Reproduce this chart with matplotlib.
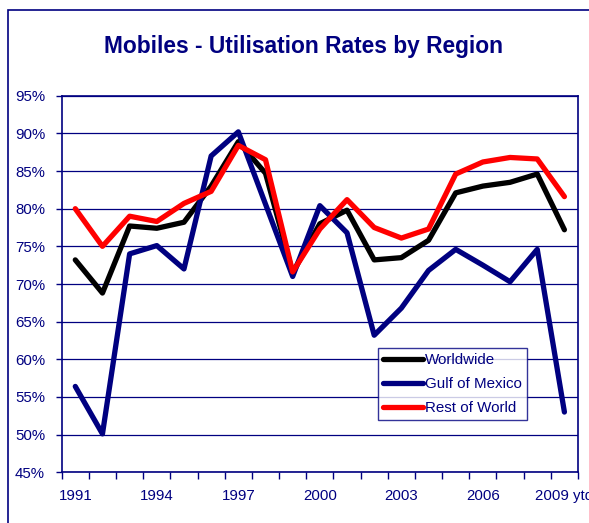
import matplotlib
matplotlib.use("Agg")
import matplotlib.pyplot as plt
from matplotlib.patches import Rectangle

plt.rcParams['font.family'] = ['Liberation Sans', 'DejaVu Sans']

years = ["1991", "1992", "1993", "1994", "1995", "1996", "1997", "1998", "1999", "2000",
         "2001", "2002", "2003", "2004", "2005", "2006", "2007", "2008", "2009 ytd"]
worldwide = [73.2, 68.8, 77.7, 77.4, 78.2, 83.0, 88.9, 84.7, 71.5, 78.0,
             79.8, 73.2, 73.5, 75.8, 82.1, 83.0, 83.5, 84.6, 77.2]
gulf_of_mexico = [56.4, 50.1, 74.0, 75.1, 72.0, 87.0, 90.2, 80.6, 71.0, 80.4,
                  76.8, 63.2, 66.8, 71.8, 74.6, 72.5, 70.3, 74.6, 53.0]
rest_of_world = [80.0, 75.0, 79.0, 78.3, 80.7, 82.3, 88.4, 86.5, 71.6, 77.3,
                 81.2, 77.5, 76.1, 77.3, 84.6, 86.2, 86.8, 86.6, 81.6]
series_names = ["Worldwide", "Gulf of Mexico", "Rest of World"]
series_colors = ["#000000", "#000080", "#FF0000"]
y_ticks = [45, 50, 55, 60, 65, 70, 75, 80, 85, 90, 95]

NAVY = "#000080"

fig = plt.figure(figsize=(5.89, 5.23), dpi=100)
# outer chart frame
fig.patches.append(Rectangle((8 / 589, -0.1), 1.2, 1 - 10 / 523 + 0.1,
                             transform=fig.transFigure, fill=False,
                             edgecolor=NAVY, linewidth=1.2))

ax = fig.add_axes([61.7 / 589, (523 - 472.3) / 523, (578 - 61.7) / 589, (472.3 - 95.7) / 523])

x = list(range(len(years)))
for vals, name, col in zip([worldwide, gulf_of_mexico, rest_of_world], series_names, series_colors):
    ax.plot(x, vals, color=col, linewidth=3.8, label=name, solid_joinstyle='round',
            solid_capstyle='round', zorder=3)

ax.set_xlim(-0.5, len(years) - 0.5)
ax.set_ylim(45, 95)
ax.set_yticks(y_ticks)
ax.set_yticklabels([f"{v}%" for v in y_ticks])
ax.set_xticks(x[::3])
ax.set_xticklabels(years[::3])
ax.set_xticks([i - 0.5 for i in range(len(years) + 1)], minor=True)
ax.tick_params(axis='x', which='major', length=0, pad=12, labelsize=10.8, labelcolor=NAVY)
ax.tick_params(axis='x', which='minor', length=5, width=1, color=NAVY, direction='out')
ax.tick_params(axis='y', length=4, width=1, color=NAVY, direction='out', pad=8,
               labelsize=10.8, labelcolor=NAVY)

ax.grid(axis='y', color=NAVY, linewidth=0.9, zorder=1)
for s in ax.spines.values():
    s.set_color(NAVY)
    s.set_linewidth(1.2)

fig.text(303 / 589, 1 - 47 / 523, "Mobiles - Utilisation Rates by Region",
         ha='center', va='center', fontsize=16.4, fontweight='bold', color=NAVY)

leg = ax.legend(loc='upper left', bbox_to_anchor=((378 - 61.7) / (578 - 61.7), (472.3 - 348) / (472.3 - 95.7)),
                frameon=True, fancybox=False, fontsize=10.9, handlelength=2.6,
                handletextpad=0.15, borderpad=0.35, labelspacing=0.65, borderaxespad=0)
leg.get_frame().set_edgecolor(NAVY)
leg.get_frame().set_linewidth(1.0)
for t in leg.get_texts():
    t.set_color(NAVY)

fig.savefig("out.png", dpi=100)
